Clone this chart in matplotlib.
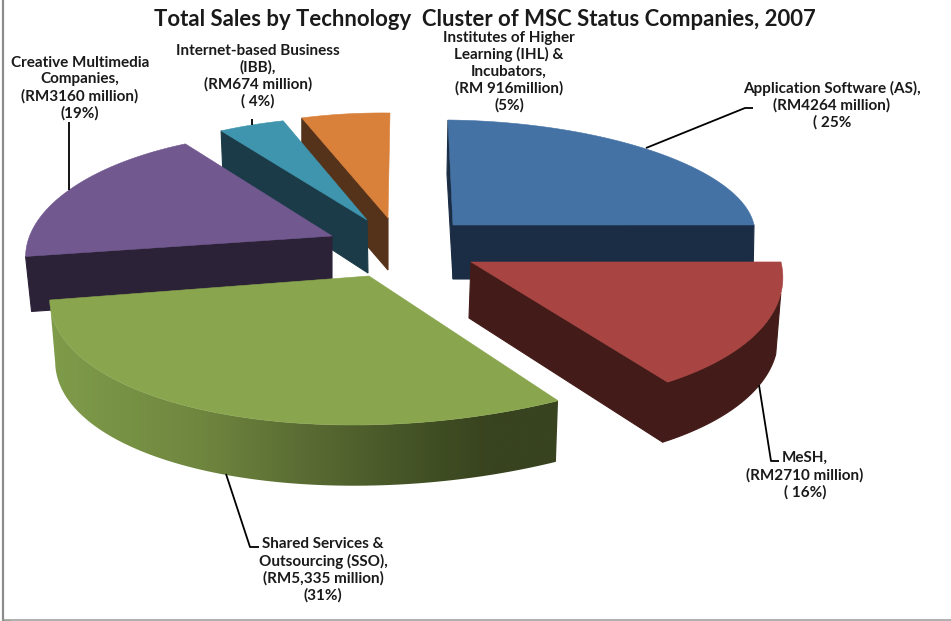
import numpy as np
import matplotlib
matplotlib.use("Agg")
import matplotlib.pyplot as plt
from matplotlib.colors import to_rgb
from matplotlib.patches import Polygon

# ---- data ----
clusters = ["AS", "MeSH", "SSO", "Creative", "IBB", "IHL"]
sales_rm_million = [4264, 2710, 5335, 3160, 674, 916]
title = "Total Sales by Technology  Cluster of MSC Status Companies, 2007"
labels = [
    "Application Software (AS),\n(RM4264 million)\n( 25%",
    "MeSH,\n(RM2710 million)\n( 16%)",
    "Shared Services &\nOutsourcing (SSO),\n(RM5,335 million)\n(31%)",
    "Creative Multimedia\nCompanies,\n(RM3160 million)\n(19%)",
    "Internet-based Business\n(IBB),\n(RM674 million)\n( 4%)",
    "Institutes of Higher\nLearning (IHL) &\nIncubators,\n(RM 916million)\n(5%)",
]

# ---- styles and layout (pixel space of the 951x621 canvas) ----
top_colors = ["#4472a5", "#a84543", "#89a54e", "#71588f", "#3f95ae", "#d9813b"]
side_colors = ["#1b2d45", "#431b18", "#38431f", "#2c2238", "#1a3b47", "#55321a"]
apex = [(453, 225), (471, 262), (369, 276), (332, 236), (367, 220), (388, 218)]
centre = [(470, 222), (471, 262), (415, 273), (288, 253), (367, 220), (388, 218)]
axis_u = [(284, 3), (310, 0), (360, 0), (258, 18), (276, 6), (266, 3)]
axis_v = [(-22, -102), (-34, -143), (62, -152), (48, -119), (8, -103), (2, -105)]
depth_apex = [(0, 54), (-2, 56), (0, 60), (0, 55), (1, 53), (0, 52)]
depth_rim = [(-1, 54), (-5, 60), (0, 63), (6, 55), (2, 48), (0, 52)]
cut_sides = [(True, True), (False, True), (False, False), (True, False), (True, False), (True, False)]
outer_side = [False, True, True, False, False, False]
outer_skip_deg = [0, 13, 0, 0, 0, 0]
draw_order = [5, 4, 3, 0, 1, 2]
label_pos = [(832, 105.2), (805, 475.2), (323, 570.2), (80, 88.2), (258, 76.2), (509, 71.7)]
leaders = [
    [(646, 148), (745, 108), (753, 108)],
    [(759, 385), (771, 461), (779, 461)],
    [(226, 474), (250, 547), (259, 547)],
    [(69, 122), (69, 190)],
    [(252, 119), (252, 125)],
]
sso_grad_x = [50, 200, 330, 430, 490]
sso_grad_c = ["#7f9c4a", "#6f863f", "#556630", "#414f24", "#38431f"]

plt.rcParams["font.family"] = ["Lato", "DejaVu Sans"]
fig = plt.figure(figsize=(9.51, 6.21), dpi=100, facecolor="white")
ax = fig.add_axes([0, 0, 1, 1])

fractions = np.array(sales_rm_million, dtype=float) / sum(sales_rm_million)
edges = np.concatenate([[0], np.cumsum(fractions)]) * 2 * np.pi


def rim(i, th, shift=(0, 0), scale=1.0):
    th = np.asarray(th)
    x = centre[i][0] + shift[0] + scale * (np.sin(th) * axis_u[i][0] + np.cos(th) * axis_v[i][0])
    y = centre[i][1] + shift[1] + scale * (np.sin(th) * axis_u[i][1] + np.cos(th) * axis_v[i][1])
    return np.column_stack([x, y])


def poly(pts, color, z, lw=0.8):
    p = Polygon(pts, closed=True, facecolor=color, edgecolor=color, lw=lw, zorder=z)
    ax.add_patch(p)
    return p


for z, i in enumerate(draw_order):
    z0 = 2 + z * 3
    t0, t1 = edges[i], edges[i + 1]
    A = np.array(apex[i], float)
    da, dr = np.array(depth_apex[i], float), np.array(depth_rim[i], float)
    # radial cut faces
    for th, show in zip((t0, t1), cut_sides[i]):
        if show:
            P = rim(i, th)[0]
            poly([A, P, P + dr, A + da], side_colors[i], z0)
    # outer curved face
    if outer_side[i]:
        ts = np.linspace(t0 + np.radians(outer_skip_deg[i]), t1, 240)
        top = rim(i, ts)
        if clusters[i] == "SSO":
            bottom = rim(i, ts, shift=dr, scale=0.985)
            outline = np.vstack([top, bottom[::-1]])
            stops = np.array([to_rgb(c) for c in sso_grad_c])
            xs = np.linspace(outline[:, 0].min(), outline[:, 0].max(), 512)
            strip = np.stack([np.interp(xs, sso_grad_x, stops[:, c]) for c in range(3)], axis=-1)[None, :, :]
            clip = Polygon(outline, closed=True, transform=ax.transData, facecolor="none", edgecolor="none")
            ax.add_patch(clip)
            im = ax.imshow(strip, extent=[xs[0], xs[-1], outline[:, 1].max(), outline[:, 1].min()],
                           aspect="auto", zorder=z0, interpolation="bilinear")
            im.set_clip_path(clip)
        else:
            bottom = rim(i, ts, shift=dr)
            poly(np.vstack([top, bottom[::-1]]), side_colors[i], z0)
    # top face
    ts = np.linspace(t0, t1, 120)
    poly(np.vstack([[A], rim(i, ts)]), top_colors[i], z0 + 1, lw=0.4)

for seg in leaders:
    xs, ys = zip(*seg)
    ax.plot(xs, ys, color="black", lw=1.3, zorder=40, solid_capstyle="butt")

for text, (x, y) in zip(labels, label_pos):
    ax.text(x, y, text, ha="center", va="center", fontsize=11, fontweight="bold",
            color="#1a1a1a", linespacing=1.22, zorder=50)
ax.text(484.5, 19, title, ha="center", va="center", fontsize=15.9, fontweight="bold",
        color="#1a1a1a", zorder=50)

# picture frame
ax.plot([2.5, 2.5], [0, 620], color="#8c8c8c", lw=1.6, zorder=60)
ax.plot([2.5, 951], [619.5, 619.5], color="#9a9a9a", lw=1.1, zorder=60)
ax.plot([3, 10], [620.6, 620.6], color="#3a7a1a", lw=1.0, zorder=61)

ax.set_xlim(0, 951)
ax.set_ylim(621, 0)
ax.axis("off")

fig.savefig("out.png", dpi=100, facecolor="white")
